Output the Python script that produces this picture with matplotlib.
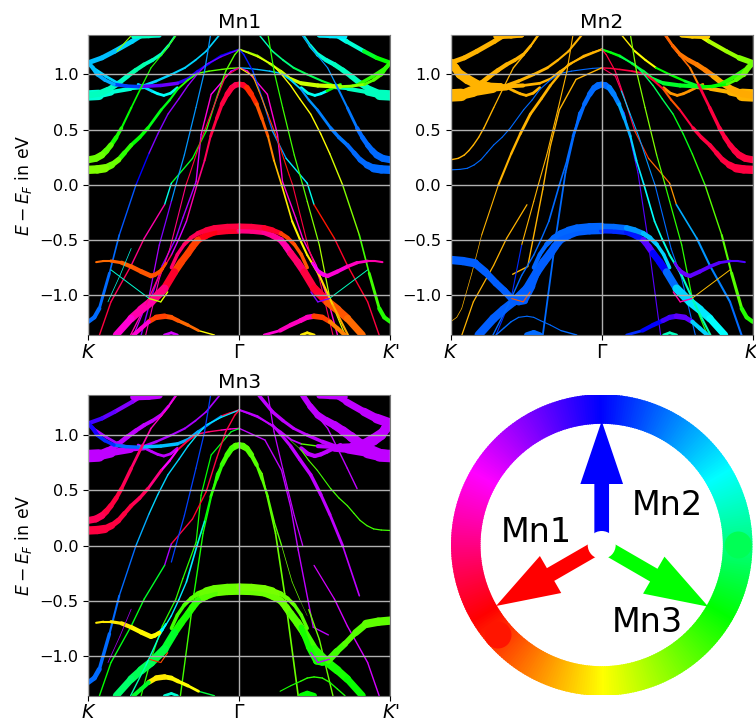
# Mn band structure, coloured by spin direction, one panel per Mn site
import colorsys
import numpy as np
import matplotlib
matplotlib.use('Agg')
import matplotlib.pyplot as plt
from matplotlib.collections import LineCollection
from matplotlib.patches import Wedge, FancyArrow, Circle

W, H = 756, 721
L, R = -1, 1

# bands: |k| (0 = Gamma, 1 = K) and energy in eV, always from Gamma outwards
bands = {
    'dome_hi': ([0, .08, .165, .22, .275, .32, .365, .41, .45], [-.375, -.378, -.39, -.41, -.44, -.48, -.54, -.63, -.75]),
    'dome_lo': ([0, .08, .165, .22, .275, .31, .34, .385, .43, .496, .585, .65, .716, .815], [-.415, -.418, -.43, -.46, -.50, -.56, -.62, -.70, -.79, -.94, -1.06, -1.13, -1.21, -1.36]),
    'peak': ([0, .025, .05, .08, .115, .15, .19, .23, .28, .35, .40, .45, .53, .62, .72], [.91, .905, .88, .82, .73, .60, .44, .22, 0, -.33, -.49, -.636, -.82, -1.09, -1.36]),
    'inner': ([0, .06, .15, .24, .30, .39], [.89, .85, .65, .11, -.435, -1.36]),
    'peak2': ([0, .054, .186, .253, .286, .374, .42, .51, .585, .65], [1.06, 1.03, .82, .455, .03, -.3, -.485, -.73, -1.03, -1.36]),
    'peak3': ([0, .12, .22, .28, .34, .40, .473, .54, .6, .684, .795, .86, .927, .96, 1], [1.227, 1.16, 1.09, 1.0, .9, .78, .64, .46, .28, 0, -.455, -.8, -1.12, -1.2, -1.24]),
    'band_d': ([0, .03, .09, .15, .22, .31, .45, .495, .63, .716, .85, .926], [1.227, 1.18, 1.03, .79, .485, .24, .015, -.18, -.485, -.73, -1.06, -1.36]),
    'steep': ([.19, .23, .287, .364, .42, .45, .53, .6, .7], [1.36, 1.03, .7, .27, 0, -.15, -.545, -1.03, -1.36]),
    'steep2': ([0, .09, .13, .19, .25, .33, .353, .46, .53, .62], [1.06, .985, .85, .636, .42, .09, 0, -.58, -.85, -1.36]),
    'orange_m': ([0, .17, .28, .34, .39, .49, .59], [1.06, .955, .68, .35, -.04, -.74, -.81]),
    'arc_top': ([.13, .22, .29, .36, .45, .55, .66, .73, .79, .88, .98], [1.36, 1.21, 1.13, 1.06, 1.0, .94, .885, .89, .91, .98, 1.07]),
    'arc_c': ([0, .06, .12, .2, .275, .34, .41, .52, .67, .75, .83, .89, .94, .97, 1], [1.227, 1.2, 1.17, 1.1, 1.03, .96, .92, .90, .89, .895, .91, .95, 1.0, 1.06, 1.106]),
    'flat_k': ([.42, .47, .52, .575, .63, .685, .74, .80, .87, .93, 1], [1.36, 1.26, 1.18, 1.13, 1.09, 1.04, .985, .92, .86, .825, .81]),
    'flat_tail': ([.63, .72, .85, .93, 1], [.88, .87, .84, .815, .81]),
    'up_a': ([.53, .64, .71, .826, .91, 1], [1.355, 1.36, 1.30, 1.21, 1.15, 1.106]),
    'cap': ([.53, .6, .7], [1.36, 1.35, 1.345]),
    'lime_top': ([.71, .81], [1.36, 1.21]),
    'green_hi': ([.415, .495, .585, .64, .715, .78, .815, .85, .88, .91, .95, 1], [1.36, 1.21, 1.06, .91, .70, .515, .43, .36, .31, .27, .24, .227]),
    'green_lo': ([0, .06, .12, .2, .275, .34, .41, .46, .517, .605, .66, .716, .76, .80, .845, .89, .94, 1], [1.06, 1.055, 1.045, 1.03, 1.01, .95, .864, .77, .68, .515, .43, .36, .29, .227, .18, .15, .14, .136]),
    'dip': ([.41, .455, .50, .54, .58, .67], [.88, .83, .81, .825, .85, .91]),
    'wiggle': ([.485, .51, .53, .56, .585, .65, .716, .78, .85, .9, .948], [-.71, -.76, -.79, -.815, -.825, -.785, -.74, -.705, -.69, -.69, -.70]),
    'flat_low': ([.41, .46, .51, .55, .59, .645, .70, .77, .84, .92, 1], [-.74, -.92, -1.05, -1.06, -1.04, -.96, -.89, -.79, -.71, -.69, -.68]),
    'bottom': ([.165, .27, .34, .405, .45, .495, .55, .6, .65, .7], [-1.36, -1.32, -1.27, -1.23, -1.2, -1.19, -1.2, -1.24, -1.30, -1.36]),
    'tiny': ([.41, .45, .496], [-1.36, -1.34, -1.36]),
    'teal_v': ([.596, .85], [-1.03, -.77]),
    'teal_w': ([.716, .79, .87], [-.576, -.82, -1.06]),
    'hook': ([.474, .52, .596], [-.97, -1.06, -1.03]),
}

# |k| where the hue and width lists of a stroke apply, for bands read more finely
style_k = {
    'dome_hi': [0, .165, .275, .365],
    'dome_lo': [0, .165, .275, .34, .43, .496, .585, .716],
    'peak': [0, .05, .115, .19, .23, .28, .35, .45, .53, .62],
    'peak3': [0, .12, .22, .34, .473, .6, .684, .795, .927],
    'arc_top': [.13, .22, .36, .55, .66, .79],
    'arc_c': [0, .12, .275, .41, .52, .67, .83, .94],
    'flat_k': [.42, .52, .63, .74, .87],
    'green_hi': [.415, .495, .585, .64, .715, .78, .85, .91],
    'green_lo': [0, .12, .275, .41, .517, .605, .716, .80, .89],
    'dip': [.41, .50, .58],
    'wiggle': [.485, .53, .585, .716, .85],
    'flat_low': [.41, .51, .59, .70, .84],
    'bottom': [.165, .27, .405, .495, .6],
}

# strokes per panel: band, side, hue in degrees along the band, width in points
mn1 = [
    ('flat_tail', L, [170], [2, 3, 5, 7.5]), ('flat_tail', R, [165], [2, 3, 5, 7.5]),
    ('flat_k', L, [165, 165, 160, 165], [1.5, 2.5, 3, 3.5, 4.5]), ('flat_k', R, [170, 170, 165], [2, 3, 3.5, 4, 5]),
    ('up_a', L, [190, 190, 190, 195], [3.5]), ('up_a', R, [180, 180, 170, 130, 120], [3.5, 3.5, 3, 3, 3]),
    ('cap', L, [165], [3.5]), ('cap', R, [185], [3.5]),
    ('lime_top', L, [85], [.8]),
    ('arc_top', L, [190], [1.2, 1.2, 1.5, 2, 2, 2]), ('arc_top', R, [165, 150, 140, 130, 120, 110], [1, 1.2, 1.5, 1.5, 1.5, 2.5]),
    ('dip', L, [175, 180, 190], [2]), ('dip', R, [175, 180, 120], [2]),
    ('arc_c', L, [240, 240, 250, 265, 262, 225, 200, 195], [1.2, 1.5, 2, 2.5, 2.5, 2.5, 2.5, 3]),
    ('arc_c', R, [85, 80, 72, 72, 72, 85, 100, 110], [1.2, 1.5, 2, 3, 3, 2, 2, 3]),
    ('green_lo', L, [95, 100, 110, 125, 125, 120, 110, 95, 90], [1, 1, 1.2, 1.5, 2, 2.5, 3, 4, 6]),
    ('green_lo', R, [200, 195, 190, 205, 210, 212, 215, 215, 215], [1, 1, 1.2, 1.5, 2, 2.5, 3, 4, 6]),
    ('green_hi', L, [105, 110, 115, 120, 120, 115, 100, 95], [.8, .8, .9, 1.2, 1.5, 2.5, 4, 5]),
    ('green_hi', R, [210, 205, 205, 210, 212, 215, 215, 215], [.8, .8, .9, 1.5, 2, 3, 4, 5]),
    ('peak2', L, [280, 300, 310, 290, 280, 275, 270], [1]), ('peak2', R, [310], [1]),
    ('peak3', L, [265, 270, 275, 275, 270, 240, 220, 215, 215], [.9, .9, .9, 1, 1, 1, 1, 1.2, 3]),
    ('peak3', R, [70, 65, 60, 60, 60, 70, 90, 105, 112], [.9, .9, .9, 1, 1, 1, 1, 1.2, 3]),
    ('band_d', L, [100, 100, 105, 110, 120, 130, 175, 320, 330, 340, 345], [1]),
    ('band_d', R, [235, 235, 225, 220, 205, 185, 175, 5, 350, 350, 345], [1]),
    ('steep', L, [205, 205, 205, 205, 205, 270, 280, 285], [.9]), ('steep', R, [110, 110, 105, 105, 100, 90, 80, 70], [.9]),
    ('steep2', L, [345, 345, 340, 345, 345, 345, 330, 320], [.8]), ('steep2', R, [55, 40, 30, 15, 5, 350, 345, 340], [.8]),
    ('dome_lo', L, [350, 355, 15, 15, 350, 330, 320, 310], [4.5, 4.5, 5, 5, 5.5, 6, 6, 5]),
    ('dome_lo', R, [330, 325, 320, 335, 345, 350, 20, 25], [4, 4, 4.5, 5, 5.5, 6, 6, 5]),
    ('dome_hi', L, [345, 345, 340, 335], [4, 4, 3, 2.5]), ('dome_hi', R, [345, 350, 15, 20], [4, 4, 3, 2.5]),
    ('peak', L, [340, 345, 345, 340, 330, 320, 290, 340, 330, 320], [4, 4, 2.5, 1.5, 1.2, 1, 1, 1, 1, 1]),
    ('peak', R, [350, 10, 20, 30, 45, 55, 58, 55, 50, 40], [4, 4, 2.5, 1.5, 1.2, 1.2, 1.5, 1.5, 1.5, 1.5]),
    ('wiggle', L, [18, 18, 20, 22, 25], [2, 3, 3.5, 3, 1.5]), ('wiggle', R, [300, 305, 310, 315, 320], [2, 3, 3, 2.5, 1.5]),
    ('bottom', L, [60, 25, 20, 15, 310], [1, 2, 3, 4, 3]), ('bottom', R, [310, 315, 315, 15, 30], [2, 3, 3.5, 4, 3]),
    ('tiny', L, [290], [2]), ('tiny', R, [55], [2]),
    ('teal_v', L, [170], [.7]), ('teal_v', R, [165], [.7]),
    ('teal_w', L, [175], [.5]),
    ('hook', L, [65, 75, 100], [1]), ('hook', R, [270], [1]),
]
mn2 = [
    ('flat_tail', L, [42], [4, 6, 7, 9]), ('flat_tail', R, [42], [2, 3, 5, 9]),
    ('flat_k', L, [42], [1.5, 2.5, 3, 3.5, 5]), ('flat_k', R, [28, 28, 30, 40], [2, 3, 3.5, 4, 5]),
    ('up_a', L, [42], [3.5]), ('up_a', R, [60, 65, 80, 85, 90], [3, 3, 3, 3, 4]),
    ('cap', L, [42], [4]), ('cap', R, [48], [4]),
    ('arc_top', L, [42], [1.5, 1.5, 2, 2.5, 2.5, 2.5]), ('arc_top', R, [55, 60, 120, 130, 125, 110], [1, 1.5, 1.5, 2, 2, 3]),
    ('dip', L, [42], [2]), ('dip', R, [35], [2]),
    ('arc_c', L, [42, 42, 42, 42, 42, 42, 42, 42], [1.2, 1.2, 1.5, 2, 3, 5, 6, 6]),
    ('arc_c', R, [125, 130, 135, 130, 128, 120, 100, 95], [1.5, 1.5, 2, 3, 3, 2, 2, 4]),
    ('green_hi', L, [42], [1, 1, .9, .9, 1, 1, 1, 1]), ('green_hi', R, [20, 25, 30, 345, 345, 345, 345, 345], [1, 1.2, 1.5, 2, 2.5, 3, 4, 5]),
    ('green_lo', L, [215], [.8, .8, .8, .8, .8, .8, .8, .8, .8]),
    ('green_lo', R, [345, 345, 350, 20, 345, 345, 345, 345, 345], [1, 1.2, 1.5, 1.5, 1.5, 2.5, 3, 4, 6]),
    ('orange_m', L, [42], [1]),
    ('peak3', L, [42], [1.5, 1.5, 1.5, 2, 2, 1.5, .8, .5, .5]),
    ('peak3', R, [120, 140, 145, 140, 125, 110, 100, 100, 112], [1, 1, 1, 1, 1, 1, 1, 1.5, 3]),
    ('inner', L, [215], [1.3]), ('inner', R, [215, 260], [.8]),
    ('band_d', L, [42], [0, 0, 0, 0, 0, 0, 0, .9, .9, .9, .9]),
    ('band_d', R, [345, 345, 340, 345, 10, 25, 35, 200, 205, 210, 215], [.9, .9, .9, .9, .9, .9, .9, 1.2, 1.5, 1.5, 1.5]),
    ('steep', L, [42, 42, 42, 42, 42, 42, 230, 230], [.8]), ('steep', R, [90, 90, 90, 100, 110], [.9]),
    ('steep2', R, [340, 340, 190, 200, 205, 210, 215, 215, 215], [.8]),
    ('dome_lo', L, [218], [5, 5, 5.5, 6, 6, 6, 6, 6]),
    ('dome_lo', R, [230, 235, 260, 240, 215, 190, 185, 180], [4, 4, 4.5, 5, 5.5, 6, 6, 5]),
    ('dome_hi', L, [216], [5, 5, 4, 3]), ('dome_hi', R, [215, 205, 195, 190], [4, 4, 3.5, 2.5]),
    ('peak', L, [215], [4, 4, 2.5, 1.5, 1.2, 1.2, 1, 1, 1, 1]),
    ('peak', R, [215, 210, 200, 190, 185, 180, 175, 170, 165, 160], [4, 4, 2.5, 1.5, 1.2, 1.2, 1.2, 1.5, 1.5, 1.5]),
    ('flat_low', L, [218], [4, 5, 5, 5, 6, 7]),
    ('wiggle', R, [265, 265, 262, 260, 258], [2, 3, 3, 2.5, 1.5]),
    ('bottom', L, [215], [1, .8, .8, .8, 1]), ('bottom', R, [230, 240, 255, 262, 190], [2, 3, 3.5, 4, 3]),
    ('tiny', L, [215], [4]), ('tiny', R, [165], [2]),
    ('teal_v', R, [45], [.7]),
    ('hook', L, [20, 20, 30], [.8]), ('hook', R, [320], [1]),
]
mn3 = [
    ('flat_tail', L, [285], [3, 5, 7, 9]), ('flat_tail', R, [285], [5, 6, 8, 9]),
    ('flat_k', L, [285], [1.5, 2.5, 3, 3.5, 5]), ('flat_k', R, [285], [4, 5, 6, 7, 8]),
    ('up_a', L, [285, 280, 270, 262, 255], [3]), ('up_a', R, [285], [4, 4, 5, 6, 7]),
    ('cap', L, [285], [5]), ('cap', R, [285], [4]),
    ('arc_top', L, [280], [1.2, 1.2, 1.5, 2, 2, 2]), ('arc_top', R, [285], [2.5, 2.5, 2, 3, 3, 4]),
    ('dip', L, [285], [2]), ('dip', R, [285], [3]),
    ('arc_c', L, [345, 205, 200, 195, 195, 215, 230, 245], [1.2, 1.5, 2, 2.5, 2.5, 2.5, 2.5, 3]),
    ('arc_c', R, [285, 285, 285, 100, 285, 285, 285, 285], [1.5, 1.5, 1.5, 1, 3, 5, 7, 7]),
    ('green_lo', L, [310, 335, 345, 300, 330, 340, 345, 345, 345], [1, 1, 1.2, 1.5, 2, 2.5, 3, 4, 6]),
    ('green_lo', R, [100, 100, 100, 100, 105, 105, 105, 105, 105], [0, 0, 0, .8, .8, .9, .9, .9, .9]),
    ('green_hi', L, [310, 315, 320, 335, 340, 345, 345, 340], [1, 1, 1.2, 2, 2.5, 3, 4, 5]),
    ('green_hi', R, [285], [1, 1, 1, 1, 1, 0, 0, 0]),
    ('orange_m', R, [285], [1]),
    ('peak2', L, [130, 125, 120, 115, 110, 108, 110], [.9]),
    ('peak3', L, [185, 185, 185, 190, 190, 200, 215, 215, 215], [.9, .9, .9, 1, 1, 1, 1, 1.5, 3.5]),
    ('peak3', R, [285], [.9, .9, 2, 2.5, 2.5, 2, 1.2, 0, 0]),
    ('band_d', L, [345, 345, 345, 345, 350, 345, 280, 130, 125, 125, 120], [1]),
    ('band_d', R, [290], [0, 0, 0, 0, 0, 0, 0, .9, 1, 1, 1]),
    ('steep', L, [225], [.9, .9, .9, .9, .9, 0, 0, 0]), ('steep', R, [285], [.9, .9, .9, .9, 0, 0, 0, 0]),
    ('steep2', R, [95], [0, 0, 0, 0, 0, 0, 0, 1, 1]),
    ('inner', L, [110, 110, 115, 115, 105], [1]), ('inner', R, [95], [1.2]),
    ('dome_lo', L, [95, 100, 110, 115, 130, 135, 140, 145], [5, 5, 5, 5, 5.5, 6, 6, 5]),
    ('dome_lo', R, [95, 95, 95, 100, 105, 110, 115, 118], [5, 5, 5, 5.5, 6, 6, 6, 5]),
    ('dome_hi', L, [95, 95, 100, 105], [5, 5, 3, 2.5]), ('dome_hi', R, [92, 92, 95, 100], [5, 5, 3, 2.5]),
    ('peak', L, [100, 105, 110, 120, 170, 185, 185, 180, 170, 160], [4, 4, 2.5, 1.2, 1.2, 1.2, 1, 1, 1, 1]),
    ('peak', R, [100, 100, 100, 100, 100, 95, 95, 95, 95, 95], [4, 4, 2, 1.2, 1, .5, .5, 0, 0, 0]),
    ('wiggle', L, [180, 60, 58, 55, 55], [1.5, 3, 3.5, 3, 1.5]),
    ('flat_low', R, [115, 115, 105, 100, 98], [4, 4.5, 5, 4, 6, 7]),
    ('bottom', L, [135, 60, 58, 55, 130], [1, 2, 3, 4, 3]), ('bottom', R, [115, 115, 110, 110, 115], [0, .8, 1, 1, 1]),
    ('tiny', L, [170], [2]), ('tiny', R, [120], [4]),
    ('teal_w', L, [280], [.5]),
    ('hook', L, [20, 10, 120], [.8]), ('hook', R, [285], [1]),
]

titles = ['Mn1', 'Mn2', 'Mn3']
panel_strokes = [mn1, mn2, mn3]
# left, top, right, bottom of each panel in pixels
panel_boxes = [(88.3, 34.7, 390.3, 335), (450.7, 34.7, 752.7, 335), (88.3, 395.3, 390.3, 695.7)]
y_ticks = [-1.0, -0.5, 0.0, 0.5, 1.0]
x_ticks = [-1, 0, 1]
x_labels = ['$K$', r'$\Gamma$', "$K$'"]


def hue_color(h):
    return colorsys.hsv_to_rgb((h % 360) / 360, 1, 1)


def add_axes_px(left, top, right, bottom):
    return fig.add_axes([left / W, 1 - bottom / H, (right - left) / W, (bottom - top) / H])


def pad(values, n):
    return list(values[:n]) + [values[-1]] * (n - len(values))


def draw_stroke(ax, name, side, hues, widths):
    k, e = np.array(bands[name][0]), np.array(bands[name][1])
    anchors = np.array(style_k.get(name, k[:-1]))
    n = len(anchors)
    # which hue each segment takes, width goes smoothly between the anchors
    idx = np.clip(np.searchsorted(anchors, k[:-1], side='right') - 1, 0, n - 1)
    all_hues = pad(hues, n)
    cols = [hue_color(all_hues[j]) for j in idx]
    lws = np.interp(k[:-1], anchors, pad(widths, n))
    pts = np.column_stack([side * k, e])
    segs = np.stack([pts[:-1], pts[1:]], axis=1)
    ax.add_collection(LineCollection(segs, colors=cols, linewidths=lws, capstyle='round', zorder=2))


fig = plt.figure(figsize=(W / 100, H / 100), dpi=100)

for i, (title, strokes, box) in enumerate(zip(titles, panel_strokes, panel_boxes)):
    ax = add_axes_px(*box)
    ax.set_facecolor('black')
    for stroke in strokes:
        draw_stroke(ax, *stroke)
    ax.set_xlim(-1, 1)
    ax.set_ylim(-1.36, 1.36)
    ax.set_xticks(x_ticks)
    ax.set_xticklabels(x_labels, fontsize=13.5)
    ax.tick_params(axis='x', pad=2)
    ax.set_yticks(y_ticks)
    ax.tick_params(axis='y', labelsize=11.6)
    ax.grid(True, color='#b0b0b0', lw=1)
    ax.set_axisbelow(False)
    ax.set_title(title, fontsize=14.6, pad=5)
    for s in ax.spines.values():
        s.set_color('#777777')
    if i != 1:
        ax.set_ylabel('$E-E_F$ in eV', fontsize=12.4)

# colour wheel with the three Mn spin directions
wheel = add_axes_px(451, 395, 753, 695)
wheel.set_xlim(-150.7, 151.3)
wheel.set_ylim(-150, 150)
wheel.axis('off')
for a in range(360):
    wheel.add_patch(Wedge((0, 0), 150.7, a, a + 1.6, width=29.5, fc=hue_color(a + 150), lw=0))
# round ends where the ring was closed
wheel.add_patch(Circle((-103.7, -90), 13.5, fc=hue_color(5), lw=0))
wheel.add_patch(Circle((136.6, 0), 13.5, fc=hue_color(140), lw=0))

arrow_tips = [(-105.7, -61), (0, 124), (106.6, -61.7)]
arrow_colors = ['#ff0000', '#0000ff', '#00ff00']
for (dx, dy), c in zip(arrow_tips, arrow_colors):
    wheel.add_patch(FancyArrow(0, 0, dx, dy, width=14.7, head_width=42.7, head_length=63,
                               length_includes_head=True, fc=c, lw=0))
wheel.add_patch(Circle((0, 0), 14, fc='white', lw=0, zorder=3))
wheel.text(-65, 12.3, 'Mn1', fontsize=24, ha='center', va='center')
wheel.text(65.6, 39.3, 'Mn2', fontsize=24, ha='center', va='center')
wheel.text(45.6, -77, 'Mn3', fontsize=24, ha='center', va='center')

fig.savefig('out.png', dpi=100)
